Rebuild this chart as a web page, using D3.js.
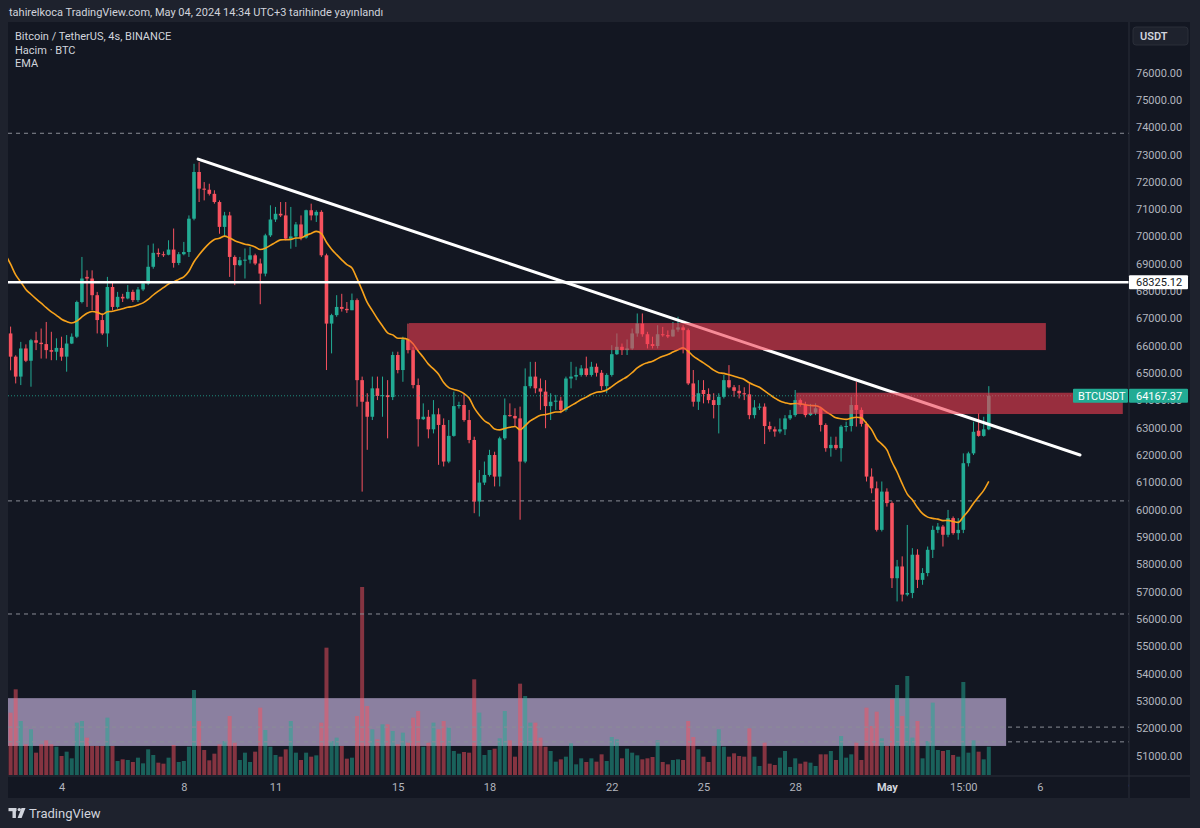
<!DOCTYPE html>
<html><head><meta charset="utf-8">
<script src="https://cdn.jsdelivr.net/npm/d3@7"></script>
<style>
html,body{margin:0;padding:0;background:#1e222d;}
svg{display:block;font-family:Roboto,"Noto Sans",sans-serif;}
</style></head><body>
<svg id="c" width="1200" height="828"></svg>
<script>
// ---------- DATA (4h BTC/USDT candles, Apr 2 11:00 -> May 4 11:00, UTC+3) ----------
const opens = [66450,65600,64870,65900,65450,66200,66110,66060,65840,65780,65920,65600,66080,66330,67600,68520,68460,67850,66940,66450,
68150,67420,67790,67730,67970,67670,68060,68280,68890,69400,69350,69330,69520,69030,69350,69430,70650,72360,71750,71710,
71560,71260,70350,70770,69250,68950,69130,69150,69310,69010,68640,70040,70620,70830,70770,69920,70000,70440,69960,70960,
70770,70900,69310,66810,67120,67420,67350,67300,67670,64740,63950,63400,64440,64160,64190,64120,65660,65110,66230,65840,
64560,63310,63400,62940,63490,63100,61760,62700,63790,63830,63280,62550,60300,60990,61270,62000,61210,62610,63460,63430,
63340,61760,64520,64870,64440,64320,63790,63950,63990,63650,64800,64870,64930,65170,64930,65230,65010,64520,64930,65690,
65960,65840,65900,66450,66810,66420,66060,65990,66420,66390,66340,66590,66670,66570,64620,63950,64380,64230,64010,63830,
64130,64740,64480,64350,64260,64220,63460,63740,63770,63060,62940,62860,62940,63340,63460,64010,63830,63460,63550,63710,
63100,62250,62370,62250,63040,63060,63830,63650,63140,61210,60780,59260,60660,60240,57490,57920,56890,56950,58350,57430,
57680,58530,59260,59380,59080,59690,59140,59260,61700,62060,62890,62700,62940];
const highs = [66700,65650,66140,66050,66250,66510,66630,66870,66510,66270,66330,66390,66450,67650,69250,68760,68760,67970,67180,68520,
68340,67970,67900,68220,68050,68150,68350,69680,69740,69560,69450,69860,70290,69430,69800,70770,72660,72720,71990,71930,
71690,71320,70900,70900,69310,69250,69560,69620,69370,69190,70100,71140,71080,71260,71260,71080,70530,70770,70980,71200,
70960,70960,69370,67170,67850,67900,67600,67910,67730,64870,64260,64870,64870,64870,64740,65780,65780,66330,66810,65960,
64800,63890,63650,64010,63710,63340,63280,64320,63950,64260,63650,62670,61450,61760,62190,62120,62670,64070,63890,63710,
63770,65170,65410,65410,64800,64740,64260,64200,64130,64870,65410,65230,65290,65600,65410,65350,65110,64990,66020,66450,
66080,66230,66630,67180,67180,66510,66330,66750,66690,66560,66870,67060,66750,66630,65110,64740,64740,64440,64260,64260,
64930,65290,64560,64560,64480,64620,64010,63890,63890,63220,63040,63340,63460,63650,64380,64070,63950,63870,63890,63770,
63160,62670,62670,63100,63220,64130,64680,63740,63220,61510,61030,61030,60780,60300,58160,58290,59440,58590,58550,57860,
58650,59410,59510,59440,59990,59750,59690,62060,62120,63220,63520,63400,64520];
const lows = [65100,64620,64560,65400,64500,65840,65530,65530,65470,65470,65450,65050,66060,66280,67550,67420,67300,66450,66390,65960,
67300,67360,67600,67700,67600,67600,68000,68220,68820,69250,69250,69310,68860,68950,69310,69250,70590,71260,71320,71500,
71200,70100,69980,68520,68220,68910,68460,69010,68950,67520,68540,69980,70530,70710,69860,69550,69620,69860,69920,70590,
70530,69250,65110,65720,67060,67250,67200,67300,63770,60660,62190,63280,64010,63400,62610,64010,64990,64680,65720,64440,
62310,63280,62610,62790,61640,61580,61700,62670,63700,63220,62430,59870,59750,60900,61210,60850,60850,62550,63400,63040,
59630,61700,64440,64260,63650,62980,63280,63650,63530,63590,64440,64740,64870,64870,64870,64870,64380,64260,64870,65660,
65660,65660,65850,66330,66330,65900,65900,65900,66330,66280,66330,66510,65720,64560,63770,63650,63890,63890,63340,62790,
64070,64440,64130,64070,64010,63310,63340,63650,62400,62850,62670,62790,62730,63280,63400,63770,63380,63430,63460,62860,
62120,61940,62190,61760,62860,62860,63040,63040,61030,60600,59200,59200,60110,57130,56640,56640,56830,56760,57130,57250,
57560,58230,59140,58650,58990,59080,58900,59140,61580,62000,62670,62670,62910];
const closes = [65600,64870,65900,65450,66200,66110,66060,65840,65780,65920,65600,66080,66330,67600,68460,68460,67850,66940,66450,68150,
67420,67790,67730,67970,67670,68060,68280,68890,69400,69350,69330,69520,69030,69350,69430,70650,72360,71750,71710,71560,
71260,70350,70770,69250,68950,69130,69150,69310,69010,68640,70040,70620,70830,70770,69920,70000,70440,69960,70960,70770,
70900,69310,66810,67120,67420,67350,67300,67670,64740,63950,63400,64440,64160,64190,64120,65660,65110,66230,65840,64560,
63310,63400,62940,63490,63100,61760,62700,63790,63830,63280,62550,60300,60990,61270,62000,61210,62610,63460,63430,63340,
61760,64520,64870,64440,64320,63790,63950,63990,63650,64800,64870,64930,65170,64930,65230,65010,64520,64930,65690,65960,
65840,65900,66450,66810,66420,66060,65990,66420,66390,66340,66590,66670,66570,64620,63950,64260,64230,64010,63830,64130,
64740,64480,64350,64260,64220,63460,63740,63770,63060,62940,62860,62940,63340,63460,64010,63830,63460,63550,63710,63100,
62250,62370,62250,63040,63060,63830,63650,63140,61210,60780,59260,60660,60240,57490,57920,56890,56950,58350,57430,57680,
58530,59260,59380,59080,59690,59140,59260,61700,62060,62850,62700,62940,64167.37];
const volumes = [18700,25700,16200,9200,13700,6700,9200,10400,9200,8500,5700,7000,5000,15700,16200,11200,8700,8700,8700,17200,
8700,4200,4700,4500,3900,5200,3500,7700,6000,3700,3400,5200,9000,3900,4200,8500,25500,16200,7500,4400,
6400,9200,10200,17700,9700,4500,6700,3900,7000,20200,13500,8500,6000,5500,7700,16200,6700,4500,6700,5500,
5900,15700,38200,10200,11200,8700,4900,5200,17700,56400,20700,13700,10700,15200,15200,13200,9200,12700,9700,17200,
19200,8500,9700,15700,13700,16200,14200,7200,6400,6900,6700,28700,18700,6000,7500,7900,11000,19200,10400,5500,
27400,23700,15700,15700,11200,8500,7200,4000,4700,5500,9500,3200,5000,3900,5000,4000,6200,4200,11400,10700,
5000,7900,6700,5900,4700,5000,5400,10400,3900,3200,4500,4700,4500,16200,11400,7700,5500,3900,8700,13700,
8500,5500,6500,5700,5500,14000,5500,2700,9700,3400,3000,5200,7200,2400,5000,3400,4000,3700,2700,6200,
6200,7200,4500,11700,5200,6200,9700,4500,20200,14700,19000,11000,8700,22700,27000,17700,29700,11200,16200,5000,
10200,21700,7500,7200,7500,6000,5500,27900,6700,10400,7000,4700,8500];

// time ticks (candle index -> label)
const timeTickIdx = [10,34,52,76,94,118,136,154,172,187,202,220];
const timeTickLabels = ["4","8","11","15","18","22","25","28","May","15:00","6","9"];
const priceTicks = d3.range(51000, 76001, 1000);

// indicator + drawings
const emaLength = 20;
const emaSeed = 69340;            // EMA value just before the first visible candle
const lastPrice = 64167.37;
const hLevel = 68325.12;
const dashedLevels = [73777, 60320, 56180, 52040, 51500];
const trendLine = [[36.8, 72830], [209.9, 62000]];
const redZones = [[78.2, 203.2, 65840, 66830], [154.2, 218.3, 63500, 64280]];
const purpleZone = [-3, 195.4, 51350, 53100];

// ---------- LAYOUT ----------
const svg = d3.select("#c");
const PX0 = 8, PX1 = 1129, PY0 = 22, PY1 = 776, AX1 = 1190, TY1 = 798;
const UP = "#22ab94", DOWN = "#f7525f";
const x = d3.scaleLinear().domain([0, 192]).range([10.6, 988.8]);
const y = d3.scaleLinear().domain([50250, 77850]).range([PY1, PY0]);
const yVol = d3.scaleLinear().domain([0, 60000]).range([775, 575]);

svg.append("rect").attr("width",1200).attr("height",828).attr("fill","#1e222d");
svg.append("rect").attr("x",PX0).attr("y",PY0).attr("width",AX1-PX0).attr("height",TY1-PY0).attr("fill","#131722");

const defs = svg.append("defs");
defs.append("clipPath").attr("id","pane").append("rect").attr("x",PX0).attr("y",PY0).attr("width",PX1-PX0).attr("height",PY1-PY0);
defs.append("clipPath").attr("id","taxis").append("rect").attr("x",PX0).attr("y",PY1).attr("width",PX1-PX0).attr("height",TY1-PY1);

const pane = svg.append("g").attr("clip-path","url(#pane)");
const idx = d3.range(opens.length);
const isUp = i => closes[i] >= opens[i];

// purple zone (volume area)
pane.append("rect")
  .attr("x", x(purpleZone[0])).attr("width", x(purpleZone[1]) - x(purpleZone[0]))
  .attr("y", y(purpleZone[3])).attr("height", y(purpleZone[2]) - y(purpleZone[3]))
  .attr("fill", "rgb(139,128,160)");

// volume bars
pane.append("g").selectAll("rect").data(idx).join("rect")
  .attr("x", i => x(i) - 2).attr("width", 4)
  .attr("y", i => yVol(volumes[i])).attr("height", i => yVol(0) - yVol(volumes[i]))
  .attr("fill", i => isUp(i) ? UP : DOWN).attr("fill-opacity", 0.5);

// dashed levels
pane.append("g").selectAll("line").data(dashedLevels).join("line")
  .attr("x1", PX0).attr("x2", PX1).attr("y1", d => y(d)).attr("y2", d => y(d))
  .attr("stroke", "#8a8d96").attr("stroke-width", 1).attr("stroke-dasharray", "4 4");

// candles
const cg = pane.append("g");
cg.selectAll("line").data(idx).join("line")
  .attr("x1", i => x(i)).attr("x2", i => x(i))
  .attr("y1", i => y(highs[i])).attr("y2", i => y(lows[i]))
  .attr("stroke", i => isUp(i) ? UP : DOWN).attr("stroke-width", 1);
cg.selectAll("rect").data(idx).join("rect")
  .attr("x", i => x(i) - 1.8).attr("width", 3.6)
  .attr("y", i => y(Math.max(opens[i], closes[i])))
  .attr("height", i => Math.max(1, Math.abs(y(opens[i]) - y(closes[i]))))
  .attr("fill", i => isUp(i) ? UP : DOWN);

// EMA
const k = 2 / (emaLength + 1);
const ema = [[-1, emaSeed]];
closes.forEach((c, i) => { const p = ema[ema.length - 1][1]; ema.push([i, p + k * (c - p)]); });
pane.append("path").datum(ema)
  .attr("d", d3.line().x(d => x(d[0])).y(d => y(d[1])).curve(d3.curveMonotoneX))
  .attr("fill", "none").attr("stroke", "#f7a21b").attr("stroke-width", 1.6);

// last price dotted line
pane.append("line").attr("x1", PX0).attr("x2", PX1).attr("y1", y(lastPrice)).attr("y2", y(lastPrice))
  .attr("stroke", UP).attr("stroke-opacity", 0.8).attr("stroke-dasharray", "1 2");

// trend line & horizontal level
pane.append("line")
  .attr("x1", x(trendLine[0][0])).attr("y1", y(trendLine[0][1]))
  .attr("x2", x(trendLine[1][0])).attr("y2", y(trendLine[1][1]))
  .attr("stroke", "#ffffff").attr("stroke-width", 3).attr("stroke-linecap", "round");
pane.append("line").attr("x1", PX0).attr("x2", PX1).attr("y1", y(hLevel)).attr("y2", y(hLevel))
  .attr("stroke", "#ffffff").attr("stroke-width", 2.5);

// red zones
pane.append("g").selectAll("rect").data(redZones).join("rect")
  .attr("x", d => x(d[0])).attr("width", d => x(d[1]) - x(d[0]))
  .attr("y", d => y(d[3])).attr("height", d => y(d[2]) - y(d[3]))
  .attr("fill", "rgb(242,62,82)").attr("fill-opacity", 0.6);

// ---------- AXES ----------
svg.append("line").attr("x1", PX1).attr("x2", PX1).attr("y1", PY0).attr("y2", TY1).attr("stroke", "#2a2e39");
svg.append("line").attr("x1", PX0).attr("x2", AX1).attr("y1", PY1).attr("y2", PY1).attr("stroke", "#2a2e39");

const yAxis = svg.append("g").attr("transform", `translate(${PX1},0)`)
  .call(d3.axisRight(y).tickValues(priceTicks).tickFormat(d3.format(".2f")).tickSize(0).tickPadding(7));
yAxis.select(".domain").remove();
yAxis.selectAll("text").attr("fill", "#b2b5be").style("font-size", "11px").style("font-family", "Roboto, 'Noto Sans', sans-serif");

const xAxis = svg.append("g").attr("clip-path", "url(#taxis)").append("g").attr("transform", `translate(0,${PY1})`)
  .call(d3.axisBottom(x).tickValues(timeTickIdx).tickFormat((d, i) => timeTickLabels[i]).tickSize(0).tickPadding(7));
xAxis.select(".domain").remove();
xAxis.selectAll("text").attr("fill", "#b2b5be").style("font-size", "11px").style("font-family", "Roboto, 'Noto Sans', sans-serif")
  .filter(d => d === 172).attr("fill", "#d1d4dc").style("font-weight", "bold");

// USDT box
svg.append("rect").attr("x", 1133).attr("y", 27).attr("width", 55).attr("height", 18).attr("rx", 3)
  .attr("fill", "#1e222d").attr("stroke", "#2a2e39");
svg.append("text").attr("x", 1140).attr("y", 40).text("USDT").attr("fill", "#d1d4dc")
  .style("font-size", "11px").style("font-weight", "600").style("font-family", "Roboto, sans-serif");

// level labels
function priceLabel(val, bg, fg, txt) {
  const yy = y(val);
  svg.append("rect").attr("x", PX1).attr("y", yy - 7).attr("width", 59).attr("height", 14).attr("rx", 1).attr("fill", bg);
  svg.append("text").attr("x", PX1 + 7).attr("y", yy + 4).text(txt).attr("fill", fg)
    .style("font-size", "11px").style("font-family", "Roboto, sans-serif");
}
priceLabel(hLevel, "#ffffff", "#131722", d3.format(".2f")(hLevel));
priceLabel(lastPrice, UP, "#ffffff", d3.format(".2f")(lastPrice));
svg.append("rect").attr("x", 1073).attr("y", y(lastPrice) - 7).attr("width", 55).attr("height", 14).attr("rx", 1).attr("fill", UP);
svg.append("text").attr("x", 1078).attr("y", y(lastPrice) + 4).text("BTCUSDT").attr("fill", "#ffffff")
  .style("font-size", "11px").style("font-family", "Roboto, sans-serif");

// ---------- TEXTS ----------
svg.append("text").attr("x", 9).attr("y", 16).text("tahirelkoca TradingView.com, May 04, 2024 14:34 UTC+3 tarihinde yayınlandı")
  .attr("fill", "#d1d4dc").style("font-size", "11px").style("font-family", "Roboto, sans-serif");
const legend = ["Bitcoin / TetherUS, 4s, BINANCE", "Hacim · BTC", "EMA"];
svg.append("g").selectAll("text").data(legend).join("text")
  .attr("x", 15).attr("y", (d, i) => 40 + i * 13.5).text(d => d)
  .attr("fill", "#d1d4dc").style("font-size", "11px").style("font-family", "Roboto, sans-serif");

// footer logo
const logo = svg.append("g").attr("fill", "#d1d4dc");
logo.append("rect").attr("x", 8.5).attr("y", 808).attr("width", 8).attr("height", 3.2);
logo.append("rect").attr("x", 12.5).attr("y", 808).attr("width", 3.4).attr("height", 10);
logo.append("circle").attr("cx", 19.3).attr("cy", 809.6).attr("r", 1.7);
logo.append("path").attr("d", "M21.5,808 L25.5,808 L21.6,818 L17.6,818 Z");
svg.append("text").attr("x", 29).attr("y", 818).text("TradingView").attr("fill", "#d1d4dc")
  .style("font-size", "13px").style("font-family", "Roboto, sans-serif");
</script>
</body></html>
